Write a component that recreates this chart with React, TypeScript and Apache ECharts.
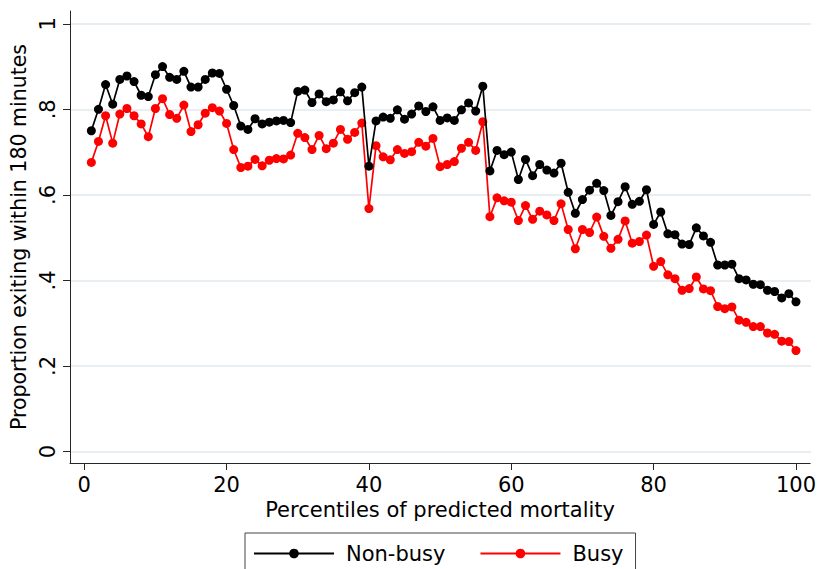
import React, { useEffect, useRef } from "react";
import * as echarts from "echarts";

// Percentiles of predicted mortality (x positions)
const percentiles = [
  1, 2, 3, 4, 5, 6, 7, 8, 9, 10,
  11, 12, 13, 14, 15, 16, 17, 18, 19, 20,
  21, 22, 23, 24, 25, 26, 27, 28, 29, 30,
  31, 32, 33, 34, 35, 36, 37, 38, 39, 40,
  41, 42, 43, 44, 45, 46, 47, 48, 49, 50,
  51, 52, 53, 54, 55, 56, 57, 58, 59, 60,
  61, 62, 63, 64, 65, 66, 67, 68, 69, 70,
  71, 72, 73, 74, 75, 76, 77, 78, 79, 80,
  81, 82, 83, 84, 85, 86, 87, 88, 89, 90,
  91, 92, 93, 94, 95, 96, 97, 98, 99, 100,
];

// Proportion exiting within 180 minutes, non-busy periods
const nonBusy = [
  0.750, 0.800, 0.858, 0.812, 0.870, 0.878, 0.865, 0.833, 0.830, 0.881,
  0.900, 0.875, 0.870, 0.889, 0.852, 0.852, 0.870, 0.885, 0.884, 0.847,
  0.809, 0.761, 0.753, 0.778, 0.766, 0.770, 0.773, 0.774, 0.769, 0.842,
  0.845, 0.816, 0.836, 0.818, 0.822, 0.841, 0.820, 0.839, 0.852, 0.667,
  0.773, 0.782, 0.779, 0.799, 0.777, 0.789, 0.808, 0.795, 0.806, 0.774,
  0.780, 0.774, 0.799, 0.815, 0.796, 0.854, 0.656, 0.704, 0.694, 0.700,
  0.636, 0.683, 0.645, 0.671, 0.658, 0.651, 0.674, 0.606, 0.557, 0.589,
  0.611, 0.627, 0.610, 0.552, 0.584, 0.619, 0.578, 0.585, 0.612, 0.531,
  0.560, 0.509, 0.507, 0.485, 0.484, 0.523, 0.504, 0.489, 0.436, 0.436,
  0.438, 0.404, 0.401, 0.391, 0.390, 0.377, 0.374, 0.359, 0.369, 0.350,
];

// Proportion exiting within 180 minutes, busy periods
const busy = [
  0.676, 0.725, 0.785, 0.721, 0.789, 0.802, 0.785, 0.766, 0.736, 0.802,
  0.825, 0.788, 0.779, 0.810, 0.748, 0.764, 0.791, 0.804, 0.796, 0.767,
  0.706, 0.664, 0.667, 0.683, 0.668, 0.681, 0.685, 0.684, 0.693, 0.744,
  0.734, 0.706, 0.739, 0.708, 0.721, 0.753, 0.730, 0.746, 0.768, 0.568,
  0.715, 0.689, 0.682, 0.706, 0.697, 0.701, 0.723, 0.714, 0.732, 0.666,
  0.671, 0.678, 0.709, 0.723, 0.704, 0.771, 0.549, 0.593, 0.586, 0.583,
  0.540, 0.575, 0.543, 0.562, 0.553, 0.540, 0.579, 0.519, 0.474, 0.519,
  0.512, 0.548, 0.503, 0.475, 0.496, 0.539, 0.487, 0.491, 0.506, 0.433,
  0.444, 0.413, 0.404, 0.377, 0.381, 0.408, 0.380, 0.376, 0.339, 0.334,
  0.338, 0.307, 0.302, 0.292, 0.292, 0.277, 0.274, 0.258, 0.257, 0.236,
];

const xTicks = [0, 20, 40, 60, 80, 100];
const yTicks = [0, 0.2, 0.4, 0.6, 0.8, 1];
const yTickLabels = ["0", ".2", ".4", ".6", ".8", "1"];

const FONT = "DejaVu Sans";
const AXIS_COLOR = "#262626";
const GRID_COLOR = "#e0e9ec";

// Plot region: the value range is padded a little beyond 0..1 and 0..100
const Y_MIN = -0.027;
const Y_MAX = 1.03;
const PLOT_TOP = 11;
const PLOT_BOTTOM = 106;
const CHART_H = 569;

export default function App() {
  const ref = useRef<HTMLDivElement>(null);

  useEffect(() => {
    if (!ref.current) return;
    const chart = echarts.init(ref.current, undefined, { renderer: "svg" });

    const pairs = (vals: number[]) => percentiles.map((p, i) => [p, vals[i]]);

    // Inner grid spanning exactly 0..1, used only for its horizontal split lines
    const plotH = CHART_H - PLOT_TOP - PLOT_BOTTOM;
    const pxPerUnit = plotH / (Y_MAX - Y_MIN);
    const innerTop = PLOT_TOP + (Y_MAX - yTicks[yTicks.length - 1]) * pxPerUnit;
    const innerBottom = PLOT_BOTTOM + (yTicks[0] - Y_MIN) * pxPerUnit;

    chart.setOption({
      animation: false,
      backgroundColor: "#ffffff",
      textStyle: { fontFamily: FONT },
      grid: [
        { left: 70, right: 8, top: PLOT_TOP, bottom: PLOT_BOTTOM, containLabel: false },
        { left: 70, right: 8, top: innerTop, bottom: innerBottom, containLabel: false },
      ],
      legend: {
        data: ["Non-busy", "Busy"],
        left: 245,
        top: 533,
        orient: "horizontal",
        itemWidth: 80,
        itemHeight: 12,
        itemGap: 34,
        padding: [10, 12, 24, 8],
        borderColor: "#444",
        borderWidth: 1,
        backgroundColor: "#fff",
        textStyle: {
          fontFamily: FONT,
          fontSize: 21,
          color: "#000",
          padding: [0, 0, 0, 7],
        },
      },
      xAxis: [
        {
          type: "value",
          gridIndex: 0,
          min: -2,
          max: 102,
          name: "Percentiles of predicted mortality",
          nameLocation: "middle",
          nameGap: 35,
          nameTextStyle: { fontFamily: FONT, fontSize: 21, color: "#000" },
          axisLine: { show: true, onZero: false, lineStyle: { color: AXIS_COLOR, width: 1 } },
          axisTick: {
            show: true,
            length: 7,
            customValues: xTicks,
            lineStyle: { color: AXIS_COLOR, width: 1 },
          },
          axisLabel: {
            customValues: xTicks,
            fontFamily: FONT,
            fontSize: 21,
            color: "#000",
            margin: 11,
          },
          splitLine: { show: false },
          z: 4,
        },
        {
          type: "value",
          gridIndex: 1,
          min: -2,
          max: 102,
          show: false,
          splitLine: { show: false },
        },
      ],
      yAxis: [
        {
          type: "value",
          gridIndex: 0,
          min: Y_MIN,
          max: Y_MAX,
          name: "Proportion exiting within 180 minutes",
          nameLocation: "middle",
          nameGap: 37,
          nameTextStyle: { fontFamily: FONT, fontSize: 20.5, color: "#000" },
          axisLine: { show: true, onZero: false, lineStyle: { color: AXIS_COLOR, width: 1 } },
          axisTick: {
            show: true,
            length: 7,
            customValues: yTicks,
            lineStyle: { color: AXIS_COLOR, width: 1 },
          },
          axisLabel: {
            customValues: yTicks,
            rotate: 90,
            fontFamily: FONT,
            fontSize: 21,
            color: "#000",
            margin: 12,
            formatter: (v: number) => {
              const idx = yTicks.findIndex((t) => Math.abs(t - v) < 1e-6);
              return idx >= 0 ? yTickLabels[idx] : "";
            },
          },
          splitLine: { show: false },
          z: 4,
        },
        {
          type: "value",
          gridIndex: 1,
          min: 0,
          max: 1,
          interval: 0.2,
          axisLine: { show: false },
          axisTick: { show: false },
          axisLabel: { show: false },
          splitLine: { show: true, lineStyle: { color: GRID_COLOR, width: 1.5 } },
          z: 0,
        },
      ],
      series: [
        {
          name: "Non-busy",
          type: "line",
          xAxisIndex: 0,
          yAxisIndex: 0,
          data: pairs(nonBusy),
          symbol: "circle",
          symbolSize: 9,
          z: 3,
          itemStyle: { color: "#000000" },
          lineStyle: { color: "#000000", width: 1.7 },
        },
        {
          name: "Busy",
          type: "line",
          xAxisIndex: 0,
          yAxisIndex: 0,
          data: pairs(busy),
          symbol: "circle",
          symbolSize: 9,
          z: 2,
          itemStyle: { color: "#ff0000" },
          lineStyle: { color: "#ff0000", width: 1.7 },
        },
      ],
    });

    return () => chart.dispose();
  }, []);

  return (
    <div
      ref={ref}
      style={{ position: "absolute", left: 0, top: 0, width: 819, height: 569 }}
    />
  );
}
